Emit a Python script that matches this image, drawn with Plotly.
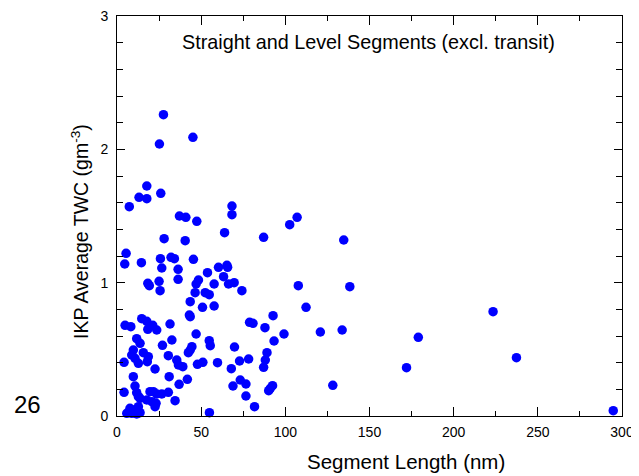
import plotly.graph_objects as go

segment_length_nm = [
    27.6, 25.2, 45.1, 17.7, 13.1, 17.7, 26.0, 7.3, 68.3, 68.3, 37.1, 40.9, 47.4, 63.9, 28.0, 40.5,
    5.4, 4.6, 14.5, 25.8, 32.1, 34.1, 45.4, 26.6, 36.3, 36.3, 18.3, 19.2, 25.0, 25.6, 53.75, 60.3,
    65.3, 65.7, 63.3, 57.7, 66.25, 69.6, 48.4, 47.0, 46.4, 52.4, 54.8, 43.5, 50.8, 57.7, 43.0, 43.5,
    4.8, 8.2, 14.7, 17.7, 21.25, 23.6, 18.3, 31.5, 11.7, 13.7, 32.6, 47.0, 27.0, 54.8, 55.4, 44.5,
    43.5, 42.4, 9.7, 8.75, 10.7, 15.65, 18.6, 18.0, 4.2, 12.7, 30.5, 35.5, 36.5, 39.1, 47.8, 51.0,
    59.7, 69.8, 67.9, 22.6, 9.7, 31.0, 41.8, 36.9, 68.9, 73.2, 4.2, 10.7, 11.7, 12.7, 13.7, 19.6,
    21.6, 23.6, 26.6, 30.5, 17.7, 20.7, 23.2, 22.6, 34.5, 7.7, 9.7, 12.7, 5.8, 8.75, 11.7, 13.7,
    54.9, 107.0, 102.6, 87.1, 134.7, 74.2, 107.7, 138.3, 112.3, 92.7, 78.75, 80.8, 87.9, 99.2,
    120.8, 133.75, 93.3, 89.1, 72.8, 78.2, 88.1, 87.1, 76.6, 92.4, 91.1, 90.1, 128.2, 76.6, 81.7,
    172.0, 179.0, 223.4, 237.3, 294.8,
]

ikp_avg_twc = [
    2.26, 2.04, 2.09, 1.725, 1.64, 1.63, 1.67, 1.57, 1.575, 1.51, 1.50, 1.49, 1.46, 1.375, 1.33, 1.315,
    1.22, 1.14, 1.15, 1.18, 1.19, 1.18, 1.175, 1.11, 1.10, 1.025, 0.995, 0.977, 1.01, 0.94, 1.075, 1.115,
    1.13, 1.115, 1.045, 0.99, 0.99, 1.00, 1.02, 0.99, 0.925, 0.925, 0.91, 0.857, 0.815, 0.825, 0.7575, 0.745,
    0.68, 0.67, 0.73, 0.71, 0.68, 0.645, 0.65, 0.69, 0.58, 0.545, 0.57, 0.615, 0.53, 0.565, 0.527, 0.52,
    0.495, 0.475, 0.495, 0.4575, 0.433, 0.475, 0.445, 0.407, 0.403, 0.395, 0.452, 0.42, 0.3825, 0.37, 0.388, 0.403,
    0.40, 0.5175, 0.355, 0.3525, 0.295, 0.295, 0.275, 0.238, 0.225, 0.27, 0.178, 0.225, 0.175, 0.145, 0.133, 0.182,
    0.182, 0.165, 0.165, 0.178, 0.12, 0.107, 0.095, 0.07, 0.115, 0.058, 0.045, 0.07, 0.02, 0.02, 0.015, 0.025,
    0.025, 1.49, 1.435, 1.34, 1.32, 0.94, 0.977, 0.97, 0.815, 0.752, 0.703, 0.695, 0.662, 0.615,
    0.63, 0.645, 0.5625, 0.475, 0.4125, 0.4275, 0.42, 0.365, 0.24, 0.227, 0.208, 0.19, 0.23, 0.15, 0.07,
    0.362, 0.59, 0.782, 0.437, 0.04,
]

x_ticks = [0, 50, 100, 150, 200, 250, 300]
y_ticks = [0, 1, 2, 3]

chart_title = "Straight and Level Segments (excl. transit)"
x_title = "Segment Length (nm)"
y_title = "IKP Average TWC (gm<sup>-3</sup>)"
corner_label = "26"

FONT = "Liberation Sans, Arial, sans-serif"

fig = go.Figure()
fig.add_trace(go.Scatter(
    x=segment_length_nm, y=ikp_avg_twc, mode="markers",
    marker=dict(color="#0000ff", size=9.5, line=dict(width=0)),
    showlegend=False, cliponaxis=False,
))

axis_common = dict(
    showline=True, linecolor="black", linewidth=1, mirror="ticks",
    ticks="inside", tickwidth=1, tickcolor="black",
    showgrid=False, zeroline=False, automargin=False,
    ticklabeloverflow="allow",
    tickfont=dict(family=FONT, size=14, color="black"),
)

fig.update_xaxes(
    range=[0, 300], tickvals=x_ticks, ticktext=[str(v) for v in x_ticks], ticklen=9,
    ticklabelstandoff=3,
    minor=dict(ticks="inside", ticklen=5, dtick=25, tick0=0, tickcolor="black", showgrid=False),
    **axis_common,
)
fig.update_yaxes(
    range=[0, 3], tickvals=y_ticks, ticktext=[str(v) for v in y_ticks], ticklen=8,
    ticklabelstandoff=5,
    minor=dict(ticks="inside", ticklen=6, dtick=0.2, tick0=0, tickcolor="black", showgrid=False),
    **axis_common,
)

fig.add_annotation(
    text=chart_title, xref="paper", yref="paper", x=0.498, y=0.935,
    xanchor="center", yanchor="middle", showarrow=False,
    font=dict(family=FONT, size=19.8, color="black"),
)
fig.add_annotation(
    text=x_title, xref="paper", yref="paper", x=0.572, y=-0.1125,
    xanchor="center", yanchor="middle", showarrow=False,
    font=dict(family=FONT, size=20.5, color="black"),
)
fig.add_annotation(
    text=y_title, xref="paper", yref="paper", x=-0.0733, y=0.4625, textangle=-90,
    xanchor="center", yanchor="middle", showarrow=False,
    font=dict(family=FONT, size=19.5, color="black"),
)
fig.add_annotation(
    text=corner_label, xref="paper", yref="paper", x=-0.178, y=0.03,
    xanchor="center", yanchor="middle", showarrow=False,
    font=dict(family=FONT, size=24, color="black"),
)

fig.update_layout(
    width=631, height=468,
    margin=dict(l=109, r=17, t=8, b=60, autoexpand=False),
    paper_bgcolor="white", plot_bgcolor="white",
)

fig.write_html("out.html")
